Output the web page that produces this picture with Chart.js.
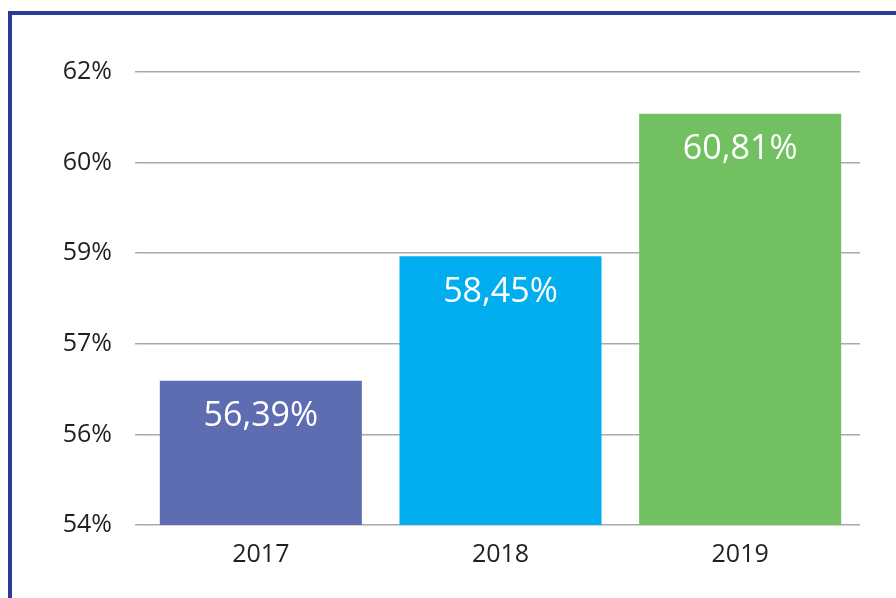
<!DOCTYPE html>
<html>
<head>
<meta charset="utf-8">
<script src="https://cdn.jsdelivr.net/npm/chart.js@4"></script>
<style>
  html, body { margin: 0; padding: 0; background: #fff; }
  #wrap { position: relative; width: 896px; height: 598px; overflow: hidden; }
  #frame {
    position: absolute; left: 8px; top: 11px; width: 1000px; height: 700px;
    border-top: 4px solid #2a3a96; border-left: 4px solid #2a3a96;
  }
  canvas { position: absolute; left: 0; top: 0; }
</style>
</head>
<body>
<div id="wrap">
  <div id="frame"></div>
  <canvas id="chart" width="896" height="598"></canvas>
</div>
<script>
const years = ['2017', '2018', '2019'];
const shares = [56.39, 58.45, 60.81];
const barColors = ['#5e6cb2', '#00aeef', '#72c062'];

// white value labels inside the bars, near their tops
const valueLabels = {
    id: 'valueLabels',
    afterDatasetsDraw(chart) {
        const ctx = chart.ctx;
        const meta = chart.getDatasetMeta(0);
        ctx.save();
        ctx.fillStyle = '#ffffff';
        ctx.font = '34px "Open Sans"';
        ctx.textAlign = 'center';
        ctx.textBaseline = 'middle';
        meta.data.forEach((bar, i) => {
            const txt = shares[i].toFixed(2).replace('.', ',') + '%';
            ctx.fillText(txt, bar.x, bar.y + 36);
        });
        ctx.restore();
    }
};

const ctx = document.getElementById('chart').getContext('2d');
const chart = new Chart(ctx, {
    type: 'bar',
    data: {
        labels: years,
        datasets: [{
            data: shares,
            backgroundColor: barColors,
            barPercentage: 0.843,
            categoryPercentage: 1
        }]
    },
    options: {
        responsive: false,
        animation: false,
        layout: { padding: { top: 72, right: 36, bottom: 0, left: 0 } },
        plugins: { legend: { display: false }, tooltip: { enabled: false } },
        scales: {
            x: {
                grid: { display: false },
                border: { display: false },
                ticks: { color: '#231f20', font: { family: 'Open Sans', size: 25 }, padding: 7 },
                afterFit(scale) { scale.height = 73; }
            },
            y: {
                min: 54,
                max: 61.5,
                border: { display: false },
                grid: { color: '#aaaaaa', lineWidth: 1.5, tickLength: 6 },
                ticks: {
                    stepSize: 1.5,
                    color: '#231f20',
                    font: { family: 'Open Sans', size: 25 },
                    padding: 23,
                    callback: v => Math.round(v) + '%'
                },
                afterFit(scale) { scale.width = 141; }
            }
        }
    },
    plugins: [valueLabels]
});
</script>
</body>
</html>
